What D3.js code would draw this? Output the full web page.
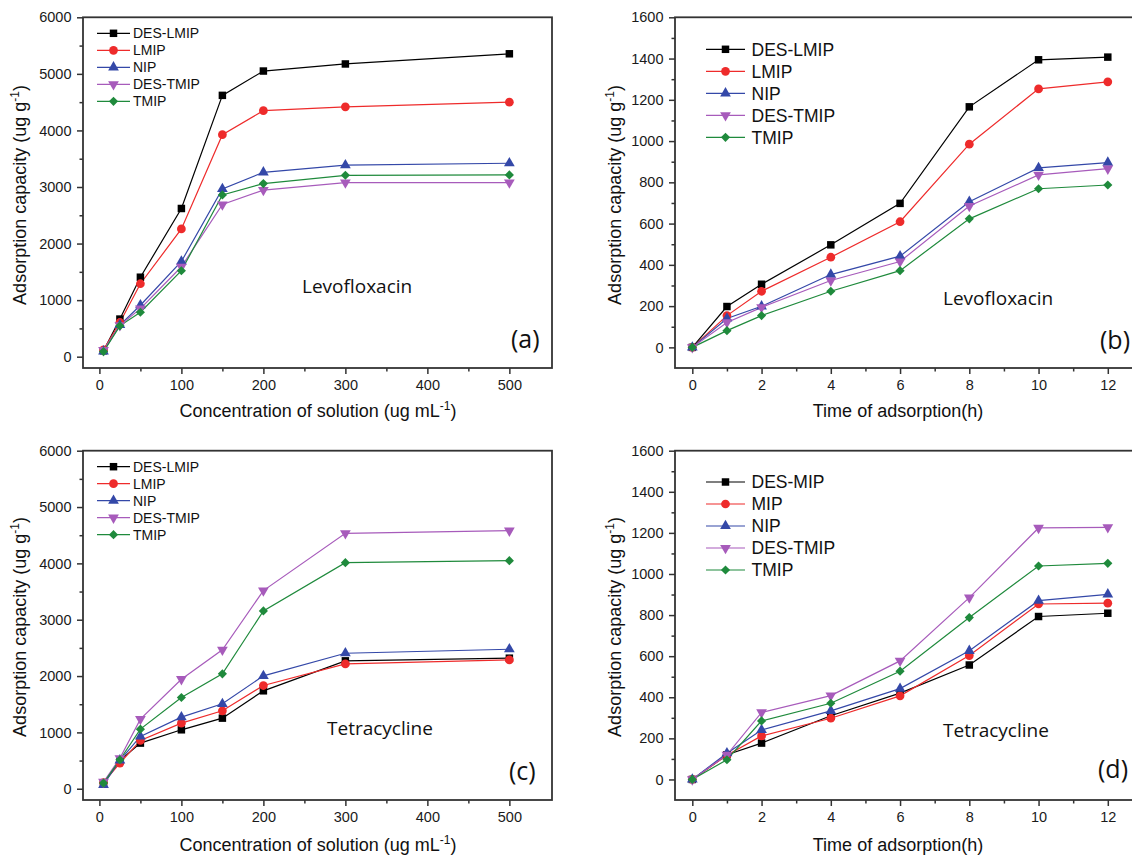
<!DOCTYPE html>
<html>
<head>
<meta charset="utf-8">
<script src="https://cdn.jsdelivr.net/npm/d3@7"></script>
<style>
  html, body { margin: 0; padding: 0; background: #fff; }
  svg { display: block; }
  .tick text { font-family: "Liberation Sans", Arial, sans-serif; fill: #1a1a1a; }
</style>
</head>
<body>
<svg id="fig" width="1132" height="857"></svg>
<script>
// ---- data ----
const concLevels = [5, 25, 50, 100, 150, 200, 300, 500];   // ug mL-1
const hours = [0, 1, 2, 4, 6, 8, 10, 12];                  // h

const seriesNamesL = ["DES-LMIP", "LMIP", "NIP", "DES-TMIP", "TMIP"];
const seriesNamesT = ["DES-MIP", "MIP", "NIP", "DES-TMIP", "TMIP"];

// (a) Levofloxacin, isotherms
const levoConcDesLmip = [105, 665, 1405, 2620, 4620, 5050, 5175, 5355];
const levoConcLmip    = [120, 605, 1290, 2258, 3925, 4350, 4418, 4500];
const levoConcNip     = [95, 560, 910, 1683, 2965, 3260, 3385, 3420];
const levoConcDesTmip = [115, 555, 850, 1590, 2690, 2945, 3078, 3078];
const levoConcTmip    = [90, 545, 786, 1520, 2860, 3060, 3207, 3213];

// (b) Levofloxacin, kinetics
const levoTimeDesLmip = [0, 198, 306, 497, 698, 1166, 1394, 1407];
const levoTimeLmip    = [0, 154, 272, 437, 609, 985, 1253, 1287];
const levoTimeNip     = [0, 140, 199, 353, 442, 706, 870, 896];
const levoTimeDesTmip = [0, 121, 194, 324, 416, 685, 836, 866];
const levoTimeTmip    = [0, 81, 154, 272, 372, 623, 769, 787];

// (c) Tetracycline, isotherms
const tetraConcDesLmip = [100, 500, 810, 1046, 1253, 1738, 2270, 2317];
const tetraConcLmip    = [110, 455, 857, 1164, 1383, 1832, 2216, 2287];
const tetraConcNip     = [70, 505, 928, 1271, 1507, 2004, 2405, 2476];
const tetraConcDesTmip = [120, 540, 1235, 1944, 2465, 3517, 4533, 4580];
const tetraConcTmip    = [100, 514, 1058, 1619, 2039, 3156, 4013, 4048];

// (d) Tetracycline, kinetics
const tetraTimeDesMip  = [0, 120, 177, 310, 420, 557, 793, 809];
const tetraTimeMip     = [0, 118, 212, 298, 407, 603, 854, 858];
const tetraTimeNip     = [0, 128, 241, 334, 442, 626, 870, 901];
const tetraTimeDesTmip = [0, 120, 326, 408, 577, 885, 1224, 1227];
const tetraTimeTmip    = [0, 96, 285, 371, 527, 788, 1039, 1052];

const concTicks = [0, 100, 200, 300, 400, 500];
const timeTicks = [0, 2, 4, 6, 8, 10, 12];
const concCapTicks = [0, 1000, 2000, 3000, 4000, 5000, 6000];
const timeCapTicks = [0, 200, 400, 600, 800, 1000, 1200, 1400, 1600];

// ---- styling ----
const colors = ["#000000", "#ee2b2b", "#3448a8", "#a75bbb", "#1f8a3c"];
const shapes = ["square", "circle", "triangle", "triangleDown", "diamond"];
const AXIS_FONT = '"Liberation Sans", Arial, sans-serif';
const NOTE_FONT = '"Open Sans", "Noto Sans", sans-serif';

const svg = d3.select("#fig");

function markerPath(shape) {
  switch (shape) {
    case "square": return d3.symbol(d3.symbolSquare, 56)();
    case "circle": return d3.symbol(d3.symbolCircle, 60)();
    case "triangle": return d3.symbol(d3.symbolTriangle, 50)();
    case "triangleDown": return d3.symbol(d3.symbolTriangle, 50)();
    case "diamond": return d3.symbol(d3.symbolSquare, 42)();
  }
}
function markerRotate(shape) {
  if (shape === "triangleDown") return 180;
  if (shape === "diamond") return 45;
  return 0;
}

function drawPanel(p) {
  const x = d3.scaleLinear().domain(p.xDomain).range([p.left, p.right]);
  const y = d3.scaleLinear().domain(p.yDomain).range([p.bottom, p.top]);
  const g = svg.append("g");

  // minor ticks
  g.append("g")
    .attr("transform", `translate(0,${p.bottom})`)
    .call(d3.axisBottom(x).tickValues(p.xMinor).tickSize(3.5).tickFormat(""))
    .call(a => a.select(".domain").remove())
    .call(a => a.selectAll("line").attr("stroke", "#333").attr("stroke-width", 1.5));
  g.append("g")
    .attr("transform", `translate(${p.left},0)`)
    .call(d3.axisLeft(y).tickValues(p.yMinor).tickSize(3.5).tickFormat(""))
    .call(a => a.select(".domain").remove())
    .call(a => a.selectAll("line").attr("stroke", "#333").attr("stroke-width", 1.5));

  // major ticks
  g.append("g")
    .attr("transform", `translate(0,${p.bottom})`)
    .call(d3.axisBottom(x).tickValues(p.xTicks).tickSize(6).tickPadding(5.5).tickFormat(d3.format("d")))
    .call(a => a.select(".domain").remove())
    .call(a => a.selectAll("line").attr("stroke", "#333").attr("stroke-width", 1.5))
    .call(a => a.selectAll("text").attr("font-size", 14.5).attr("font-family", AXIS_FONT));
  g.append("g")
    .attr("transform", `translate(${p.left},0)`)
    .call(d3.axisLeft(y).tickValues(p.yTicks).tickSize(6).tickPadding(5.5).tickFormat(d3.format("d")))
    .call(a => a.select(".domain").remove())
    .call(a => a.selectAll("line").attr("stroke", "#333").attr("stroke-width", 1.5))
    .call(a => a.selectAll("text").attr("font-size", 14.5).attr("font-family", AXIS_FONT));

  // frame
  g.append("rect")
    .attr("x", p.left).attr("y", p.top)
    .attr("width", p.right - p.left).attr("height", p.bottom - p.top)
    .attr("fill", "none").attr("stroke", "#333").attr("stroke-width", 1.8);

  // series
  const line = d3.line().x(d => x(d[0])).y(d => y(d[1]));
  p.series.forEach((vals, i) => {
    const pts = p.xs.map((xv, k) => [xv, vals[k]]);
    g.append("path").datum(pts)
      .attr("d", line).attr("fill", "none")
      .attr("stroke", colors[i]).attr("stroke-width", 1.2);
  });
  p.series.forEach((vals, i) => {
    const pts = p.xs.map((xv, k) => [xv, vals[k]]);
    g.selectAll(null).data(pts).enter().append("path")
      .attr("d", markerPath(shapes[i]))
      .attr("transform", d => `translate(${x(d[0])},${y(d[1])}) rotate(${markerRotate(shapes[i])})`)
      .attr("fill", colors[i]);
  });

  // legend
  const lg = p.legend;
  p.names.forEach((name, i) => {
    const yy = lg.y + i * lg.step;
    g.append("line")
      .attr("x1", lg.x1).attr("x2", lg.x2).attr("y1", yy).attr("y2", yy)
      .attr("stroke", colors[i]).attr("stroke-width", 1.2);
    g.append("path")
      .attr("d", markerPath(shapes[i]))
      .attr("transform", `translate(${(lg.x1 + lg.x2) / 2},${yy}) rotate(${markerRotate(shapes[i])})`)
      .attr("fill", colors[i]);
    g.append("text")
      .attr("x", lg.tx).attr("y", yy).attr("dy", "0.36em")
      .attr("font-family", AXIS_FONT).attr("font-size", lg.size)
      .attr("fill", "#111").text(name);
  });

  // axis titles
  const xt = g.append("text")
    .attr("x", p.xTitle.x).attr("y", p.xTitle.y)
    .attr("text-anchor", "middle")
    .attr("font-family", AXIS_FONT).attr("font-size", 18).attr("fill", "#111");
  if (p.xTitle.sup) {
    xt.append("tspan").text(p.xTitle.text);
    xt.append("tspan").attr("font-size", 12).attr("dy", -7).text(p.xTitle.sup);
    xt.append("tspan").attr("dy", 7).text(")");
  } else {
    xt.text(p.xTitle.text);
  }

  const yt = g.append("text")
    .attr("transform", `translate(${p.yTitle.x},${p.yTitle.y}) rotate(-90)`)
    .attr("text-anchor", "middle").attr("dy", "0.36em")
    .attr("font-family", AXIS_FONT).attr("font-size", 18).attr("fill", "#111");
  yt.append("tspan").text("Adsorption capacity (ug g");
  yt.append("tspan").attr("font-size", 12).attr("dy", -7).text("-1");
  yt.append("tspan").attr("dy", 7).text(")");

  // annotations
  g.append("text")
    .attr("x", p.note.x).attr("y", p.note.y)
    .attr("font-family", NOTE_FONT).attr("font-size", 19).attr("fill", "#111")
    .text(p.note.text);
  g.append("text")
    .attr("x", p.tag.x).attr("y", p.tag.y)
    .attr("font-family", NOTE_FONT).attr("font-size", 25).attr("fill", "#111")
    .text(p.tag.text);
}

const concMinor = [50, 150, 250, 350, 450];
const timeMinor = [1, 3, 5, 7, 9, 11];
const concCapMinor = [500, 1500, 2500, 3500, 4500, 5500];
const timeCapMinor = [100, 300, 500, 700, 900, 1100, 1300, 1500];

const panels = [
  {
    left: 83, right: 552, top: 17.3, bottom: 368,
    xDomain: [-20, 552], yDomain: [-200, 6000],
    xTicks: concTicks, xMinor: concMinor, yTicks: concCapTicks, yMinor: concCapMinor,
    xs: concLevels,
    series: [levoConcDesLmip, levoConcLmip, levoConcNip, levoConcDesTmip, levoConcTmip],
    names: seriesNamesL,
    legend: { x1: 97, x2: 130, tx: 133, y: 33.3, step: 17, size: 14 },
    xTitle: { x: 318, y: 417, text: "Concentration of solution (ug mL", sup: "-1" },
    yTitle: { x: 20, y: 195 },
    note: { x: 302, y: 293, text: "Levofloxacin" },
    tag: { x: 511, y: 348, text: "(a)" }
  },
  {
    left: 675, right: 1135.5, top: 17.3, bottom: 368,
    xDomain: [-0.5, 12.8], yDomain: [-100, 1600],
    xTicks: timeTicks, xMinor: timeMinor, yTicks: timeCapTicks, yMinor: timeCapMinor,
    xs: hours,
    series: [levoTimeDesLmip, levoTimeLmip, levoTimeNip, levoTimeDesTmip, levoTimeTmip],
    names: seriesNamesL,
    legend: { x1: 706, x2: 745, tx: 751.5, y: 49.3, step: 22, size: 17.5 },
    xTitle: { x: 898, y: 417, text: "Time of adsorption(h)" },
    yTitle: { x: 615, y: 195 },
    note: { x: 943, y: 305, text: "Levofloxacin" },
    tag: { x: 1100, y: 349, text: "(b)" }
  },
  {
    left: 83, right: 552, top: 450.7, bottom: 800,
    xDomain: [-20, 552], yDomain: [-200, 6000],
    xTicks: concTicks, xMinor: concMinor, yTicks: concCapTicks, yMinor: concCapMinor,
    xs: concLevels,
    series: [tetraConcDesLmip, tetraConcLmip, tetraConcNip, tetraConcDesTmip, tetraConcTmip],
    names: seriesNamesL,
    legend: { x1: 97, x2: 130, tx: 133, y: 466.7, step: 17, size: 14 },
    xTitle: { x: 318, y: 851, text: "Concentration of solution (ug mL", sup: "-1" },
    yTitle: { x: 20, y: 627 },
    note: { x: 327, y: 735, text: "Tetracycline" },
    tag: { x: 509, y: 780, text: "(c)" }
  },
  {
    left: 675, right: 1135.5, top: 450.7, bottom: 800,
    xDomain: [-0.5, 12.8], yDomain: [-100, 1600],
    xTicks: timeTicks, xMinor: timeMinor, yTicks: timeCapTicks, yMinor: timeCapMinor,
    xs: hours,
    series: [tetraTimeDesMip, tetraTimeMip, tetraTimeNip, tetraTimeDesTmip, tetraTimeTmip],
    names: seriesNamesT,
    legend: { x1: 706, x2: 745, tx: 751.5, y: 482, step: 22, size: 17.5 },
    xTitle: { x: 898, y: 851, text: "Time of adsorption(h)" },
    yTitle: { x: 615, y: 627 },
    note: { x: 943, y: 737, text: "Tetracycline" },
    tag: { x: 1098, y: 778, text: "(d)" }
  }
];

panels.forEach(drawPanel);
</script>
</body>
</html>
